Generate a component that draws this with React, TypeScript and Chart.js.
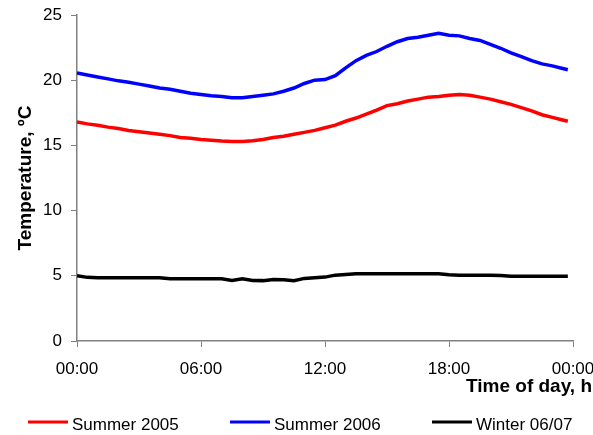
import React, { useEffect, useRef } from "react";
import { Chart, registerables } from "chart.js";

Chart.register(...registerables);

// Time of day in hours (half-hourly readings, last one at 23:45)
const hours = [
  0, 0.5, 1, 1.5, 2, 2.5, 3, 3.5, 4, 4.5,
  5, 5.5, 6, 6.5, 7, 7.5, 8, 8.5, 9, 9.5,
  10, 10.5, 11, 11.5, 12, 12.5, 13, 13.5, 14, 14.5,
  15, 15.5, 16, 16.5, 17, 17.5, 18, 18.5, 19, 19.5,
  20, 20.5, 21, 21.5, 22, 22.5, 23, 23.5, 23.75,
];

// Mean temperatures, °C
const summer2005 = [
  16.8, 16.65, 16.55, 16.4, 16.3, 16.15, 16.05, 15.95, 15.85, 15.75,
  15.6, 15.55, 15.45, 15.4, 15.33, 15.3, 15.3, 15.35, 15.45, 15.6,
  15.7, 15.85, 16.0, 16.15, 16.35, 16.55, 16.85, 17.1, 17.4, 17.7,
  18.05, 18.2, 18.4, 18.55, 18.7, 18.75, 18.85, 18.9, 18.85, 18.7,
  18.55, 18.35, 18.15, 17.9, 17.65, 17.35, 17.15, 16.95, 16.85,
];

const summer2006 = [
  20.55, 20.4, 20.25, 20.1, 19.95, 19.85, 19.7, 19.55, 19.4, 19.3,
  19.15, 19.0, 18.9, 18.8, 18.75, 18.65, 18.65, 18.75, 18.85, 18.95,
  19.15, 19.4, 19.75, 20.0, 20.05, 20.35, 20.95, 21.5, 21.9, 22.2,
  22.6, 22.95, 23.2, 23.3, 23.45, 23.6, 23.45, 23.4, 23.2, 23.05,
  22.75, 22.45, 22.1, 21.8, 21.5, 21.25, 21.1, 20.9, 20.8,
];

const winter0607 = [
  5.0, 4.88, 4.85, 4.85, 4.85, 4.85, 4.85, 4.85, 4.85, 4.77,
  4.77, 4.77, 4.77, 4.77, 4.77, 4.65, 4.77, 4.64, 4.63, 4.72,
  4.7, 4.63, 4.8, 4.85, 4.9, 5.05, 5.1, 5.15, 5.15, 5.15,
  5.15, 5.15, 5.15, 5.15, 5.15, 5.15, 5.08, 5.05, 5.05, 5.05,
  5.05, 5.03, 4.97, 4.97, 4.97, 4.97, 4.97, 4.97, 4.97,
];

const seriesLabels = ["Summer 2005", "Summer 2006", "Winter 06/07"];
const seriesColors = ["#ff0000", "#0000ff", "#000000"];

const xTickValues = [0, 6, 12, 18, 24];
const xTickLabels = ["00:00", "06:00", "12:00", "18:00", "00:00"];
const yMin = 0;
const yMax = 25;
const yStep = 5;

const xTitle = "Time of day, h";
const yTitle = "Temperature, \u00baC";

const FONT = "'Liberation Sans', Arial, Helvetica, sans-serif";
const AXIS_GREY = "#808080";

// Legend item anchor x-positions (line start)
const legendLineX = [28, 230, 432];
const legendY = 422;

const titlesAndLegend = {
  id: "titlesAndLegend",
  afterDraw(chart: any) {
    const { ctx, chartArea } = chart;
    ctx.save();
    ctx.fillStyle = "#000";

    // y-axis title, rotated
    ctx.save();
    ctx.translate(31, (chartArea.top + chartArea.bottom) / 2);
    ctx.rotate(-Math.PI / 2);
    ctx.font = `bold 19px ${FONT}`;
    ctx.textAlign = "center";
    ctx.textBaseline = "alphabetic";
    ctx.fillText(yTitle, 0, 0);
    ctx.restore();

    // x-axis title, right aligned
    ctx.font = `bold 19px ${FONT}`;
    ctx.textAlign = "right";
    ctx.textBaseline = "alphabetic";
    ctx.fillText(xTitle, 592, 391.5);

    // legend
    chart.data.datasets.forEach((ds: any, i: number) => {
      const x0 = legendLineX[i];
      ctx.strokeStyle = ds.borderColor;
      ctx.lineWidth = 3;
      ctx.beginPath();
      ctx.moveTo(x0, legendY);
      ctx.lineTo(x0 + 40, legendY);
      ctx.stroke();
      ctx.font = `17px ${FONT}`;
      ctx.textAlign = "left";
      ctx.textBaseline = "alphabetic";
      ctx.fillText(ds.label, x0 + 44, legendY + 7.5);
    });
    ctx.restore();
  },
};

export default function App() {
  const canvasRef = useRef<HTMLCanvasElement | null>(null);

  useEffect(() => {
    document.body.style.margin = "0";
    const canvas = canvasRef.current;
    if (!canvas) return;

    const series = [summer2005, summer2006, winter0607];
    const chart = new Chart(canvas, {
      type: "line",
      data: {
        datasets: series.map((vals, i) => ({
          label: seriesLabels[i],
          data: vals.map((v, j) => ({ x: hours[j], y: v })),
          borderColor: seriesColors[i],
          backgroundColor: seriesColors[i],
          borderWidth: 3.5,
          pointRadius: 0,
          tension: 0,
          fill: false,
        })),
      },
      options: {
        responsive: false,
        animation: false,
        events: [],
        layout: { padding: { top: 15, right: 20, bottom: 0, left: 0 } },
        plugins: {
          legend: { display: false },
          tooltip: { enabled: false },
          title: { display: false },
        },
        scales: {
          x: {
            type: "linear",
            min: 0,
            max: 24,
            afterFit(scale: any) {
              scale.height = 94;
              scale.paddingLeft = 0;
              scale.paddingRight = 0;
            },
            afterBuildTicks(scale: any) {
              scale.ticks = xTickValues.map((v) => ({ value: v }));
            },
            ticks: {
              autoSkip: false,
              maxRotation: 0,
              padding: 12,
              color: "#000",
              font: { family: FONT, size: 17 },
              callback: (value: any) => {
                const idx = xTickValues.indexOf(Number(value));
                return idx >= 0 ? xTickLabels[idx] : "";
              },
            },
            grid: {
              display: true,
              drawOnChartArea: false,
              drawTicks: true,
              tickLength: 6,
              color: AXIS_GREY,
            },
            border: { display: true, color: AXIS_GREY, width: 1.5 },
          },
          y: {
            min: yMin,
            max: yMax,
            afterFit(scale: any) {
              scale.width = 77;
              scale.paddingTop = 0;
              scale.paddingBottom = 0;
            },
            ticks: {
              stepSize: yStep,
              padding: 9,
              color: "#000",
              font: { family: FONT, size: 17 },
            },
            grid: {
              display: true,
              drawOnChartArea: false,
              drawTicks: true,
              tickLength: 6,
              color: AXIS_GREY,
            },
            border: { display: true, color: AXIS_GREY, width: 1.5 },
          },
        },
      },
      plugins: [titlesAndLegend],
    });

    return () => chart.destroy();
  }, []);

  return (
    <div style={{ width: 593, height: 435, background: "#fff" }}>
      <canvas ref={canvasRef} width={593} height={435} style={{ display: "block" }} />
    </div>
  );
}
